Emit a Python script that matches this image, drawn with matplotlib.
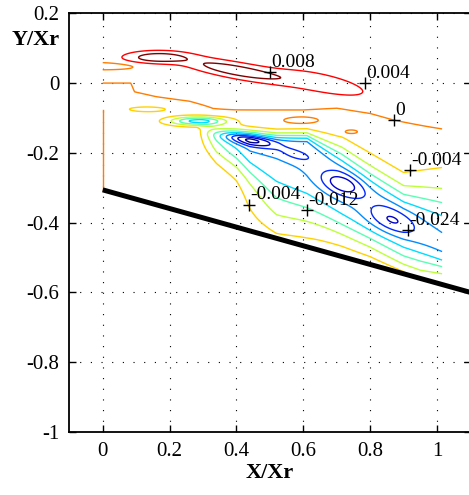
import numpy as np
import matplotlib
matplotlib.use("Agg")
import matplotlib.pyplot as plt

# ---------------- data ----------------
levels = [-0.032, -0.028, -0.024, -0.020, -0.016, -0.012, -0.008, -0.004, 0.0, 0.004, 0.008]
level_colors = ["#00008c", "#0000c8", "#0028ff", "#008cff", "#00dcff", "#5affb4",
                "#beff3c", "#ffd200", "#ff7d00", "#ff0000", "#800000"]

# wall (thick black line)
wall_x = [0.0, 1.1]
wall_y = [-0.306, -0.600]

# zero-level segment along the inlet x = 0
edge_x = [0.0, 0.0]
edge_y = [-0.077, -0.306]

# zero line separating the positive upper field from the negative lower field
zero_line_x = [0.0, 0.084, 0.095, 0.16, 0.26, 0.33, 0.40, 0.60, 0.70, 0.80, 0.87, 1.015]
zero_line_y = [0.0, 0.0, -0.025, -0.039, -0.053, -0.075, -0.077, -0.077, -0.072, -0.087, -0.106, -0.134]
base_amp = 0.0015
base_width = 0.02

# main negative trough, described at stations along x
trough_x = [0.28, 0.34, 0.40, 0.44, 0.52, 0.611, 0.715, 0.80, 0.90, 1.015]
trough_yc = [-0.14, -0.155, -0.16, -0.165, -0.172, -0.175, -0.265, -0.335, -0.40, -0.465]
trough_m = [0.0, -0.010, -0.016, -0.0195, -0.019, -0.0195, -0.0195, -0.020, -0.0205, -0.0195]
trough_su = [0.02, 0.02, 0.02, 0.02, 0.02, 0.022, 0.055, 0.066, 0.070, 0.11]
trough_sd = [0.03, 0.045, 0.06, 0.08, 0.135, 0.165, 0.13, 0.10, 0.085, 0.055]
trough_p = [2.0, 2.0, 2.0, 2.0, 2.5, 3.0, 3.0, 2.5, 2.0, 2.0]

# weak positive layer along the wall
layer_x = [0.5, 0.611, 0.715, 0.80, 0.90, 0.95, 1.015]
layer_amp = [0.0, 0.0005, 0.0015, 0.003, 0.0035, 0.0, 0.0]
layer_width = 0.025

# local extrema: centre, sigma along, sigma across, angle, amplitude
blob_x = [0.16, 0.40, 0.66, 0.0, 0.285, 0.136, 0.595, 0.74,
          0.44, 0.578, 0.715, 0.862, 0.50]
blob_y = [0.073, 0.036, 0.000, 0.049, -0.109, -0.075, -0.108, -0.140,
          -0.164, -0.205, -0.290, -0.393, -0.37]
blob_sa = [0.065, 0.115, 0.10, 0.10, 0.06, 0.08, 0.045, 0.022,
           0.058, 0.035, 0.045, 0.05, 0.08]
blob_sb = [0.012, 0.015, 0.02, 0.009, 0.009, 0.01, 0.008, 0.006,
           0.011, 0.010, 0.022, 0.024, 0.05]
blob_ang = [0, -10, -12, 0, 0, 0, 0, 0,
            -10, -15, -20, -20, -20]
blob_amp = [0.0088, 0.0092, 0.0051, -0.0030, -0.0160, -0.0032, 0.0030, 0.0033,
            -0.0125, -0.0055, -0.0100, -0.0068, -0.0020]

# contour labels
label_x = [0.501, 0.785, 0.870, 0.920, 0.436, 0.611, 0.912]
label_y = [0.032, 0.000, -0.106, -0.249, -0.349, -0.364, -0.421]
label_text = ["0.008", "0.004", "0", "-0.004", "-0.004", "-0.012", "-0.024"]

xticks = [0, 0.2, 0.4, 0.6, 0.8, 1.0]
xtick_labels = ["0", "0.2", "0.4", "0.6", "0.8", "1"]
yticks = [-1, -0.8, -0.6, -0.4, -0.2, 0, 0.2]
ytick_labels = ["-1", "-0.8", "-0.6", "-0.4", "-0.2", "0", "0.2"]

# ---------------- build field ----------------
gx = np.linspace(0.0, 1.015, 500)
gy = np.linspace(-0.62, 0.10, 500)
X, Y = np.meshgrid(gx, gy)
wall_at = np.interp(X, wall_x, wall_y)
yz = np.interp(X, zero_line_x, zero_line_y)
F = base_amp * np.tanh((Y - yz) / base_width)

yc = np.interp(X, trough_x, trough_yc)
tm = np.interp(X, trough_x, trough_m, left=0.0)
su = np.interp(X, trough_x, trough_su)
sd = np.interp(X, trough_x, trough_sd)
tp = np.interp(X, trough_x, trough_p)
dv = Y - yc
q = np.where(dv > 0, (dv / su) ** 2, np.abs(dv / sd) ** tp)
F = F + tm * np.exp(-0.5 * q)
F = F + np.interp(X, layer_x, layer_amp, left=0.0, right=0.0) * np.exp(-np.clip(Y - wall_at, 0, None) / layer_width)

for x0, y0, sa, sb, ang, amp in zip(blob_x, blob_y, blob_sa, blob_sb, blob_ang, blob_amp):
    t = np.deg2rad(ang)
    u = (X - x0) * np.cos(t) + (Y - y0) * np.sin(t)
    v = -(X - x0) * np.sin(t) + (Y - y0) * np.cos(t)
    F = F + amp * np.exp(-0.5 * (u / sa) ** 2 - 0.5 * (v / sb) ** 2)
Fm = np.ma.masked_where(Y < wall_at, F)

# ---------------- plot ----------------
plt.rcParams["font.family"] = ["Liberation Serif", "DejaVu Serif"]
fig = plt.figure(figsize=(4.69, 4.95), dpi=100)
ax = fig.add_axes([69.3 / 469, 63 / 495, 401.2 / 469, 418.7 / 495])

ax.contour(X, Y, Fm, levels=levels, colors=level_colors, linewidths=1.0)
ax.plot(edge_x, edge_y, color=level_colors[levels.index(0.0)], lw=1.0)
ax.plot(wall_x, wall_y, color="black", lw=3.6, solid_capstyle="butt", zorder=5)

ax.plot(label_x, label_y, "k+", ms=9, mew=1.0, zorder=6)
for lx, ly, lt in zip(label_x, label_y, label_text):
    ax.annotate(lt, (lx, ly), xytext=(1, 1), textcoords="offset points",
                ha="left", va="bottom", fontsize=14, zorder=7)

ax.set_xlim(-0.1, 1.1)
ax.set_ylim(-1, 0.2)
ax.set_xticks(xticks)
ax.set_xticklabels(xtick_labels)
ax.set_yticks(yticks)
ax.set_yticklabels(ytick_labels)
ax.tick_params(direction="in", length=5, width=1.0, top=True, right=True, labelsize=15, pad=7)
ax.grid(True, color="black", linestyle=(0, (1, 8.6)), linewidth=0.8)
for s in ax.spines.values():
    s.set_linewidth(1.3)

ax.set_xlabel("X/Xr", fontsize=16, fontweight="bold", labelpad=2)
ax.set_ylabel("Y/Xr", fontsize=16, fontweight="bold", rotation=0, ha="center", va="center")
ax.yaxis.set_label_coords(-0.083, 0.936)

fig.savefig("out.png", dpi=100)
